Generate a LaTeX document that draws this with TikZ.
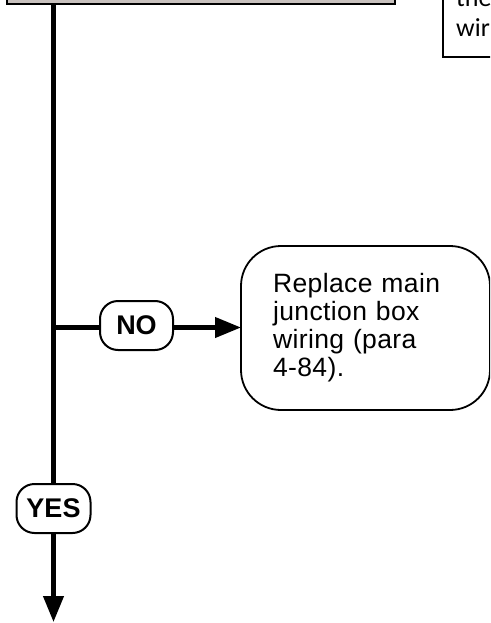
\documentclass[tikz,border=0pt]{standalone}
\usepackage{fontspec}
\setmainfont{Liberation Sans}
\newfontfamily\spacedfont[LetterSpace=1.5]{Liberation Sans}
\newfontfamily\notefont{Carlito}
\usetikzlibrary{arrows.meta}
\definecolor{boxgray}{RGB}{200,193,190}
\tikzset{
  trunkline/.style={line width=4.2pt},
  pill/.style={draw, line width=2pt, fill=white, rounded corners=18pt,
    minimum height=49pt, inner sep=0pt, outer sep=0pt,
    font=\bfseries\fontsize{27}{30}\selectfont},
  actionbox/.style={draw, line width=1.8pt, fill=white, rounded corners=40pt,
    minimum width=249pt, minimum height=164pt, inner sep=0pt, outer sep=0pt,
    text width=185pt, align=left,
    font=\spacedfont\fontsize{26.5}{28}\selectfont},
  notetext/.style={anchor=base west, inner sep=0pt,
    font=\notefont\fontsize{26}{30}\selectfont},
  bigtip/.style={-{Triangle[length=26pt,width=20pt]}}
}
\begin{document}
\begin{tikzpicture}[x=1pt,y=-1pt]
\useasboundingbox (0,0) rectangle (490,623);
\clip (0,0) rectangle (490,623);

% top boxes (cut off by the frame)
\node[draw, line width=2.5pt, fill=boxgray, minimum width=388pt,
  minimum height=40pt, anchor=south west, inner sep=0pt, outer sep=0pt]
  (top) at (7,4) {};
\node[draw, line width=1.5pt, fill=white, minimum width=100pt,
  minimum height=90pt, anchor=south west, inner sep=0pt, outer sep=0pt]
  (note) at (443,57) {};
\node[notetext] (n1) at (456,7) {the};
\node[notetext] (n2) at (456,37) {wir};

% nodes
\node[pill, minimum width=73pt] (no) at (136.5,325.5) {NO};
\node[pill, minimum width=74pt] (yes) at (53.5,508.5) {YES};
\node[actionbox] (rep) at (365.5,328)
  {Replace main\\junction box\\wiring (para\\4-84).};

\coordinate (trunk) at (53.5,4);
\coordinate (j) at (53.5,327.5);
\coordinate (end) at (53.5,622);

% connectors
\draw[trunkline] (trunk) -- (yes.north);
\draw[trunkline, bigtip] (yes.south) -- (end);
\draw[trunkline] (j) -- (no.west |- j);
\draw[trunkline, bigtip] (no.east |- j) -- (rep.west |- j);
\end{tikzpicture}
\end{document}
